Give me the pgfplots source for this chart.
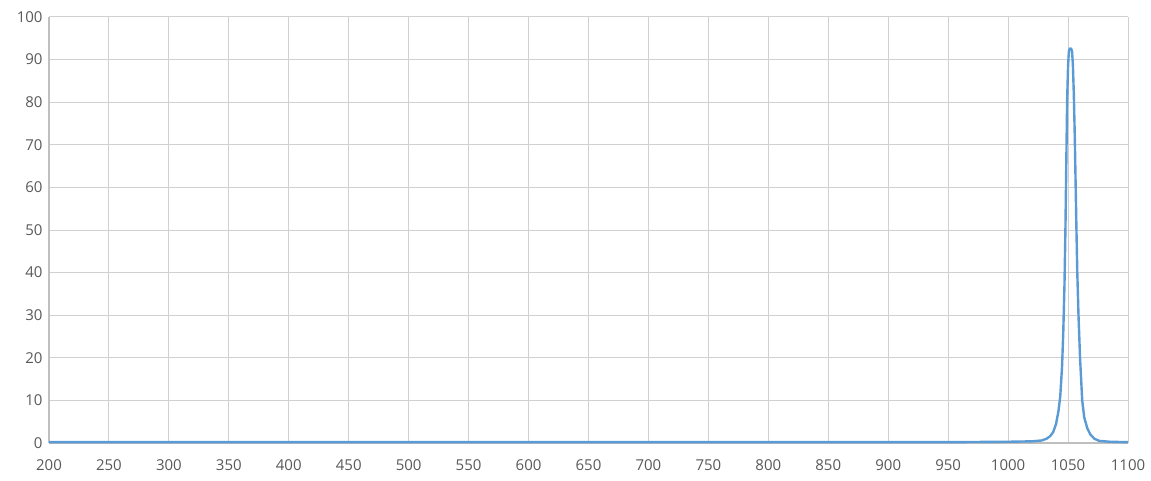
\documentclass[border=0pt]{standalone}
\usepackage{pgfplots}
\pgfplotsset{compat=1.18}
\usepackage{fontspec}
\setmainfont{Open Sans}
\definecolor{excelblue}{HTML}{5B9BD5}
\definecolor{gridgray}{HTML}{D0D0D0}
\definecolor{axisgray}{HTML}{BFBFBF}
\definecolor{labelgray}{HTML}{595959}
\begin{document}
\begin{tikzpicture}
\begin{axis}[
  name=ax,
  scale only axis,
  width=1079bp, height=426bp,
  xmin=200, xmax=1100, ymin=0, ymax=100,
  xtick distance=50, ytick distance=10,
  grid=major,
  major grid style={gridgray, line width=1bp},
  axis line style={draw=none},
  tick style={draw=none},
  ticklabel style={font=\fontsize{15bp}{17bp}\selectfont, text=labelgray},
  /pgf/number format/assume math mode=true,
  /pgf/number format/set thousands separator={},
  xticklabel style={yshift=-13bp},
  yticklabel style={xshift=-3bp},
  clip=false,
]
\draw[axisgray, line width=1.3bp] (rel axis cs:0,0) -- (rel axis cs:0,1);
\draw[axisgray, line width=1.3bp] (rel axis cs:0,0) -- (rel axis cs:1,0);
\addplot[excelblue, line width=2.4bp, line join=round] coordinates {
  (200,0.2) (400,0.2) (600,0.2) (800,0.2) (950,0.2) (1000,0.3)
  (1020,0.4) (1028,0.6) (1032,1.0) (1035,1.6) (1037.5,2.5) (1040,4.5)
  (1042,7.5) (1043.5,11) (1045,18) (1046,26) (1047,37) (1047.8,50)
  (1048.5,65) (1049.2,80) (1050,88.5) (1050.7,92) (1051.5,92.6) (1052.5,92.6)
  (1053.3,92) (1054,89) (1054.8,82) (1055.6,72) (1056.3,61) (1057,50)
  (1057.7,40) (1058.7,30) (1060,20) (1061.8,10) (1063.5,6) (1066,3.5)
  (1068.6,2) (1072,1) (1076,0.5) (1085,0.3) (1100,0.2)
};
\end{axis}
\pgfresetboundingbox
\path ([xshift=-49bp,yshift=-37bp]ax.south west) rectangle ([xshift=23bp,yshift=17bp]ax.north east);
\end{tikzpicture}
\end{document}
